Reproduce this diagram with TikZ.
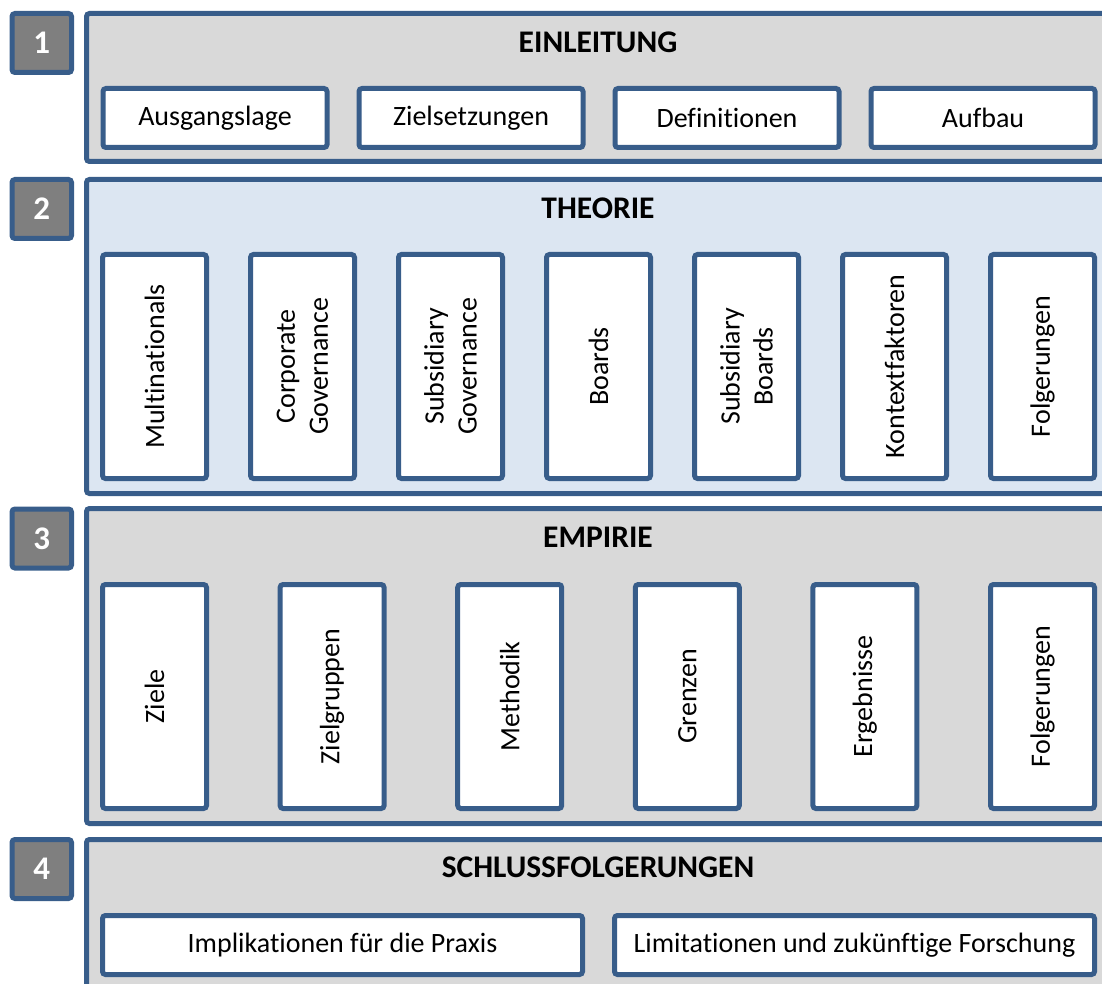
\documentclass[tikz,border=0pt]{standalone}
\usepackage{fontspec}
\setmainfont{Carlito}[Ligatures={NoCommon,NoRequired,NoContextual}]
\definecolor{edgeblue}{HTML}{385D8A}
\definecolor{panelgray}{HTML}{D9D9D9}
\definecolor{panelblue}{HTML}{DCE6F2}
\definecolor{numgray}{HTML}{7F7F7F}
\tikzset{
  numbox/.style={draw=edgeblue, line width=5pt, rounded corners=3pt, fill=numgray,
    minimum width=59.5pt, minimum height=59pt, inner sep=0pt,
    text=white, font=\fontsize{33}{38}\selectfont\bfseries},
  panel/.style={draw=edgeblue, line width=5pt, rounded corners=3pt, fill=panelgray,
    minimum width=1023pt, inner sep=0pt},
  paneltitle/.style={anchor=base, inner sep=0pt, font=\fontsize{31.5}{36}\selectfont\bfseries},
  itembox/.style={draw=edgeblue, line width=5pt, rounded corners=3pt, fill=white,
    minimum height=59pt, inner sep=0pt, font=\fontsize{28}{33}\selectfont},
  vbox/.style={draw=edgeblue, line width=5pt, rounded corners=3pt, fill=white,
    rotate=90, minimum width=224pt, minimum height=104pt, inner sep=0pt,
    align=center, font=\fontsize{28}{33}\selectfont}
}
\begin{document}
\begin{tikzpicture}[x=1pt,y=-1pt]
\useasboundingbox (0,0) rectangle (1102,984);
\clip (0,0) rectangle (1102,984);

% section numbers
\node[numbox] (n1) at (41.75,43) {1};
\node[numbox] (n2) at (41.75,209) {2};
\node[numbox] (n3) at (41.75,538.5) {3};
\node[numbox] (n4) at (41.75,869) {4};

% section panels
\node[panel, minimum height=148pt] (p1) at (598,87.5) {};
\node[panel, fill=panelblue, minimum height=314pt] (p2) at (598,336.5) {};
\node[panel, minimum height=315pt] (p3) at (598,666) {};
\node[panel, minimum height=158pt] (p4) at (598,918.5) {};

% titles
\node[paneltitle] (t1) at (598,52.3) {EINLEITUNG};
\node[paneltitle] (t2) at (598,218.3) {THEORIE};
\node[paneltitle] (t3) at (598,547.5) {EMPIRIE};
\node[paneltitle] (t4) at (598,877.5) {SCHLUSSFOLGERUNGEN};

% 1: Einleitung
\foreach \name/\txt [count=\i from 0] in {a1/Ausgangslage, a2/Zielsetzungen, a3/Definitionen, a4/Aufbau}
  \node[itembox, minimum width=224pt] (\name) at (215+256*\i,118) {\txt};

% 2: Theorie
\foreach \name/\txt [count=\i from 0] in {
  b1/Multinationals, b2/{Corporate\\Governance}, b3/{Subsidiary\\Governance},
  b4/Boards, b5/{Subsidiary\\Boards}, b6/Kontextfaktoren, b7/Folgerungen}
  \node[vbox] (\name) at (154.5+148*\i,366.5) {\txt};

% 3: Empirie
\foreach \name/\txt [count=\i from 0] in {
  c1/Ziele, c2/Zielgruppen, c3/Methodik, c4/Grenzen, c5/Ergebnisse, c6/Folgerungen}
  \node[vbox] (\name) at (154.5+177.6*\i,696.5) {\txt};

% 4: Schlussfolgerungen
\node[itembox, minimum width=480pt] (d1) at (342.5,945) {Implikationen für die Praxis};
\node[itembox, minimum width=480pt] (d2) at (854.5,945) {Limitationen und zukünftige Forschung};
\end{tikzpicture}
\end{document}
